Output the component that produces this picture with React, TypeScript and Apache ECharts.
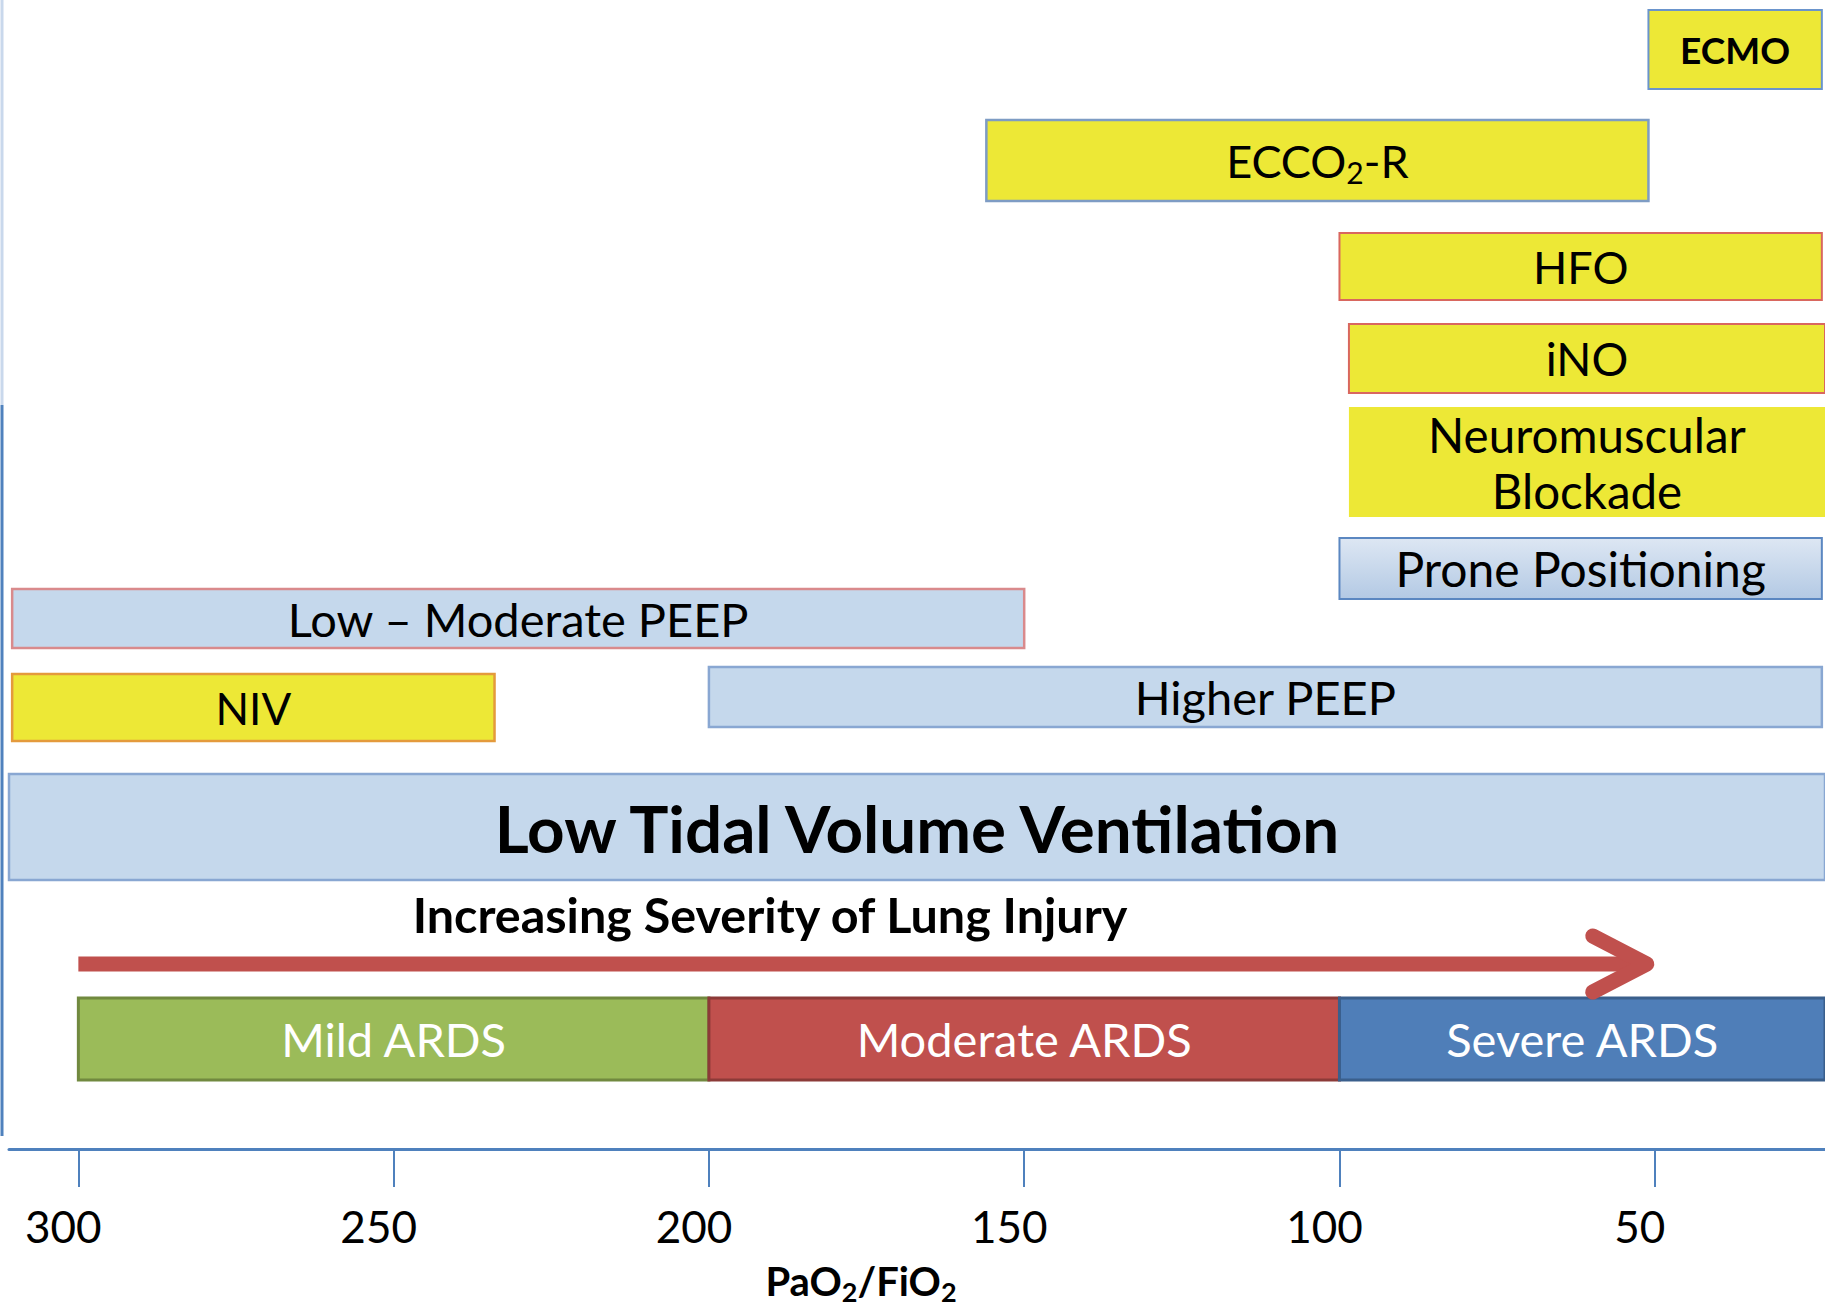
import React, { useEffect, useRef } from "react";
import * as echarts from "echarts";

// ---- data (PaO2/FiO2 ranges) ----
const therapyNames = [
  "ECMO",
  "ECCO2-R",
  "HFO",
  "iNO",
  "Neuromuscular Blockade",
  "Prone Positioning",
  "Low – Moderate PEEP",
  "NIV",
  "Higher PEEP",
  "Low Tidal Volume Ventilation",
];
const therapyFrom = [51, 156, 100, 98.5, 98.5, 100, 310.5, 310.5, 200, 311];
const therapyTo = [23.5, 51, 23.5, 23, 23, 23.5, 150, 234, 23.5, 23];

const severityNames = ["Mild ARDS", "Moderate ARDS", "Severe ARDS"];
const severityFrom = [300, 200, 100];
const severityTo = [200, 100, 23];

const tickValues = [300, 250, 200, 150, 100, 50];
const arrowRange = [300, 50];
const axisMaxValue = 311;
const axisMinValue = 23;

// ---- layout (vertical positions in hidden y-axis units, 0 = top, 1149 = x axis) ----
const therapyRows = [
  [10, 89],
  [120, 201],
  [233, 300],
  [324, 393],
  [407, 517],
  [538, 599],
  [589, 648],
  [674, 741],
  [667, 727],
  [774, 880],
];
const severityRow = [998, 1080];
const arrowY = 964;

const YELLOW = "#EDE836";
const LIGHTBLUE = "#C5D8EC";
const FONT = "Lato";

const therapyStyles: any[] = [
  { fill: YELLOW, stroke: "#6A94CC", lw: 2, fontSize: 37, fontWeight: "bold" },
  {
    fill: YELLOW, stroke: "#7E9CC4", lw: 2.5, fontSize: 45, fontWeight: "normal",
    label: "ECCO{sub|2}-R",
    rich: { sub: { fontSize: 30, lineHeight: 45, padding: [22, 0, 0, 0], fontFamily: FONT, fill: "#000" } },
  },
  { fill: YELLOW, stroke: "#D9675F", lw: 2, fontSize: 45, fontWeight: "normal" },
  { fill: YELLOW, stroke: "#D9675F", lw: 2, fontSize: 46, fontWeight: "normal" },
  { fill: YELLOW, stroke: null, lw: 0, fontSize: 47.5, fontWeight: "normal", label: "Neuromuscular\nBlockade", lineHeight: 56 },
  {
    fill: new echarts.graphic.LinearGradient(0, 0, 0, 1, [
      { offset: 0, color: "#DDE7F3" },
      { offset: 1, color: "#B3C9E4" },
    ]),
    stroke: "#5B87C1", lw: 2, fontSize: 48, fontWeight: "normal",
  },
  { fill: LIGHTBLUE, stroke: "#D98A8C", lw: 2.5, fontSize: 47, fontWeight: "normal" },
  { fill: YELLOW, stroke: "#E49A3C", lw: 2.5, fontSize: 44, fontWeight: "normal" },
  { fill: LIGHTBLUE, stroke: "#89A7D2", lw: 2.5, fontSize: 47, fontWeight: "normal" },
  { fill: LIGHTBLUE, stroke: "#89A7D2", lw: 2.5, fontSize: 65.5, fontWeight: "bold" },
];

const severityStyles = [
  { fill: "#9BBB59", stroke: "#71893F" },
  { fill: "#C0504D", stroke: "#8C3A38" },
  { fill: "#4F7EB8", stroke: "#3A5F8C" },
];

export default function App() {
  const ref = useRef<HTMLDivElement>(null);

  useEffect(() => {
    document.body.style.margin = "0";
    if (!ref.current) return;
    const chart = echarts.init(ref.current, null, { renderer: "svg" });

    const rectFromCoords = (api: any, x0: number, x1: number, top: number, bottom: number) => {
      const a = api.coord([x0, top]);
      const b = api.coord([x1, bottom]);
      return {
        x: Math.min(a[0], b[0]),
        y: Math.min(a[1], b[1]),
        width: Math.abs(b[0] - a[0]),
        height: Math.abs(b[1] - a[1]),
      };
    };

    const option: any = {
      animation: false,
      backgroundColor: "#ffffff",
      grid: { left: 9, right: 0, top: 0, bottom: 157, containLabel: false },
      xAxis: {
        type: "value",
        inverse: true,
        min: axisMinValue,
        max: axisMaxValue,
        position: "bottom",
        axisLine: { show: true, onZero: false, lineStyle: { color: "#4F81BD", width: 3 } },
        axisTick: {
          show: true,
          customValues: tickValues,
          length: 38,
          lineStyle: { color: "#4F81BD", width: 2 },
        },
        axisLabel: {
          show: true,
          customValues: tickValues,
          fontFamily: FONT,
          fontSize: 44,
          color: "#000",
          margin: 55,
          padding: [0, 30, 0, 0],
        },
        splitLine: { show: false },
      },
      yAxis: { type: "value", inverse: true, min: 0, max: 1149, show: false },
      graphic: [
        { type: "line", silent: true, shape: { x1: 2, y1: 0, x2: 2, y2: 405 }, style: { stroke: "#C9D8EC", lineWidth: 3 } },
        { type: "line", silent: true, shape: { x1: 2, y1: 405, x2: 2, y2: 1136 }, style: { stroke: "#4F81BD", lineWidth: 3 } },
        {
          type: "text", silent: true, x: 770, y: 914,
          style: {
            text: "Increasing Severity of Lung Injury", align: "center", verticalAlign: "middle",
            fontFamily: FONT, fontSize: 48.5, fontWeight: "bold", fill: "#000",
          },
        },
        {
          type: "text", silent: true, x: 861, y: 1281,
          style: {
            text: "PaO{sub|2}/FiO{sub|2}", align: "center", verticalAlign: "middle",
            fontFamily: FONT, fontSize: 40, fontWeight: "bold", fill: "#000", lineHeight: 40,
            rich: { sub: { fontFamily: FONT, fontSize: 27, fontWeight: "bold", fill: "#000", lineHeight: 40, padding: [20, 0, 0, 0] } },
          },
        },
      ],
      series: [
        {
          type: "custom",
          name: "Therapies",
          silent: true,
          encode: { x: [0, 1], y: 2 },
          data: therapyNames.map((n, i) => [therapyFrom[i], therapyTo[i], i, n]),
          renderItem: (params: any, api: any) => {
            const i = api.value(2) as number;
            const [top, bottom] = therapyRows[i];
            const r = rectFromCoords(api, api.value(0), api.value(1), top, bottom);
            const st = therapyStyles[i];
            return {
              type: "group",
              children: [
                {
                  type: "rect",
                  shape: r,
                  style: { fill: st.fill, stroke: st.stroke || "none", lineWidth: st.lw },
                },
                {
                  type: "text",
                  style: {
                    text: st.label || therapyNames[i],
                    x: r.x + r.width / 2,
                    y: r.y + r.height / 2,
                    align: "center",
                    verticalAlign: "middle",
                    fill: "#000",
                    fontFamily: FONT,
                    fontSize: st.fontSize,
                    fontWeight: st.fontWeight,
                    lineHeight: st.lineHeight || st.fontSize,
                    rich: st.rich,
                  },
                },
              ],
            };
          },
        },
        {
          type: "custom",
          name: "Severity",
          silent: true,
          encode: { x: [0, 1] },
          data: severityNames.map((n, i) => [severityFrom[i], severityTo[i], i, n]),
          renderItem: (params: any, api: any) => {
            const i = api.value(2) as number;
            const r = rectFromCoords(api, api.value(0), api.value(1), severityRow[0], severityRow[1]);
            const st = severityStyles[i];
            return {
              type: "group",
              children: [
                { type: "rect", shape: r, style: { fill: st.fill, stroke: st.stroke, lineWidth: 3 } },
                {
                  type: "text",
                  style: {
                    text: severityNames[i],
                    x: r.x + r.width / 2,
                    y: r.y + r.height / 2,
                    align: "center",
                    verticalAlign: "middle",
                    fill: "#FFFFFF",
                    fontFamily: FONT,
                    fontSize: 47,
                  },
                },
              ],
            };
          },
        },
        {
          type: "custom",
          name: "Arrow",
          silent: true,
          encode: { x: [0, 1] },
          data: [[arrowRange[0], arrowRange[1]]],
          renderItem: (params: any, api: any) => {
            const a = api.coord([api.value(0), arrowY]);
            const b = api.coord([api.value(1), arrowY]);
            const color = "#C0504D";
            const tipX = b[0] - 8;
            return {
              type: "group",
              children: [
                {
                  type: "line",
                  shape: { x1: a[0], y1: a[1], x2: tipX - 6, y2: b[1] },
                  style: { stroke: color, lineWidth: 15, lineCap: "butt" },
                },
                {
                  type: "polyline",
                  shape: { points: [[tipX - 54, b[1] - 28], [tipX, b[1]], [tipX - 54, b[1] + 28]] },
                  style: { stroke: color, lineWidth: 15, lineCap: "round", lineJoin: "round", fill: "none" },
                },
              ],
            };
          },
        },
      ],
    };

    chart.setOption(option);
    return () => chart.dispose();
  }, []);

  return <div ref={ref} style={{ width: 1825, height: 1306 }} />;
}
